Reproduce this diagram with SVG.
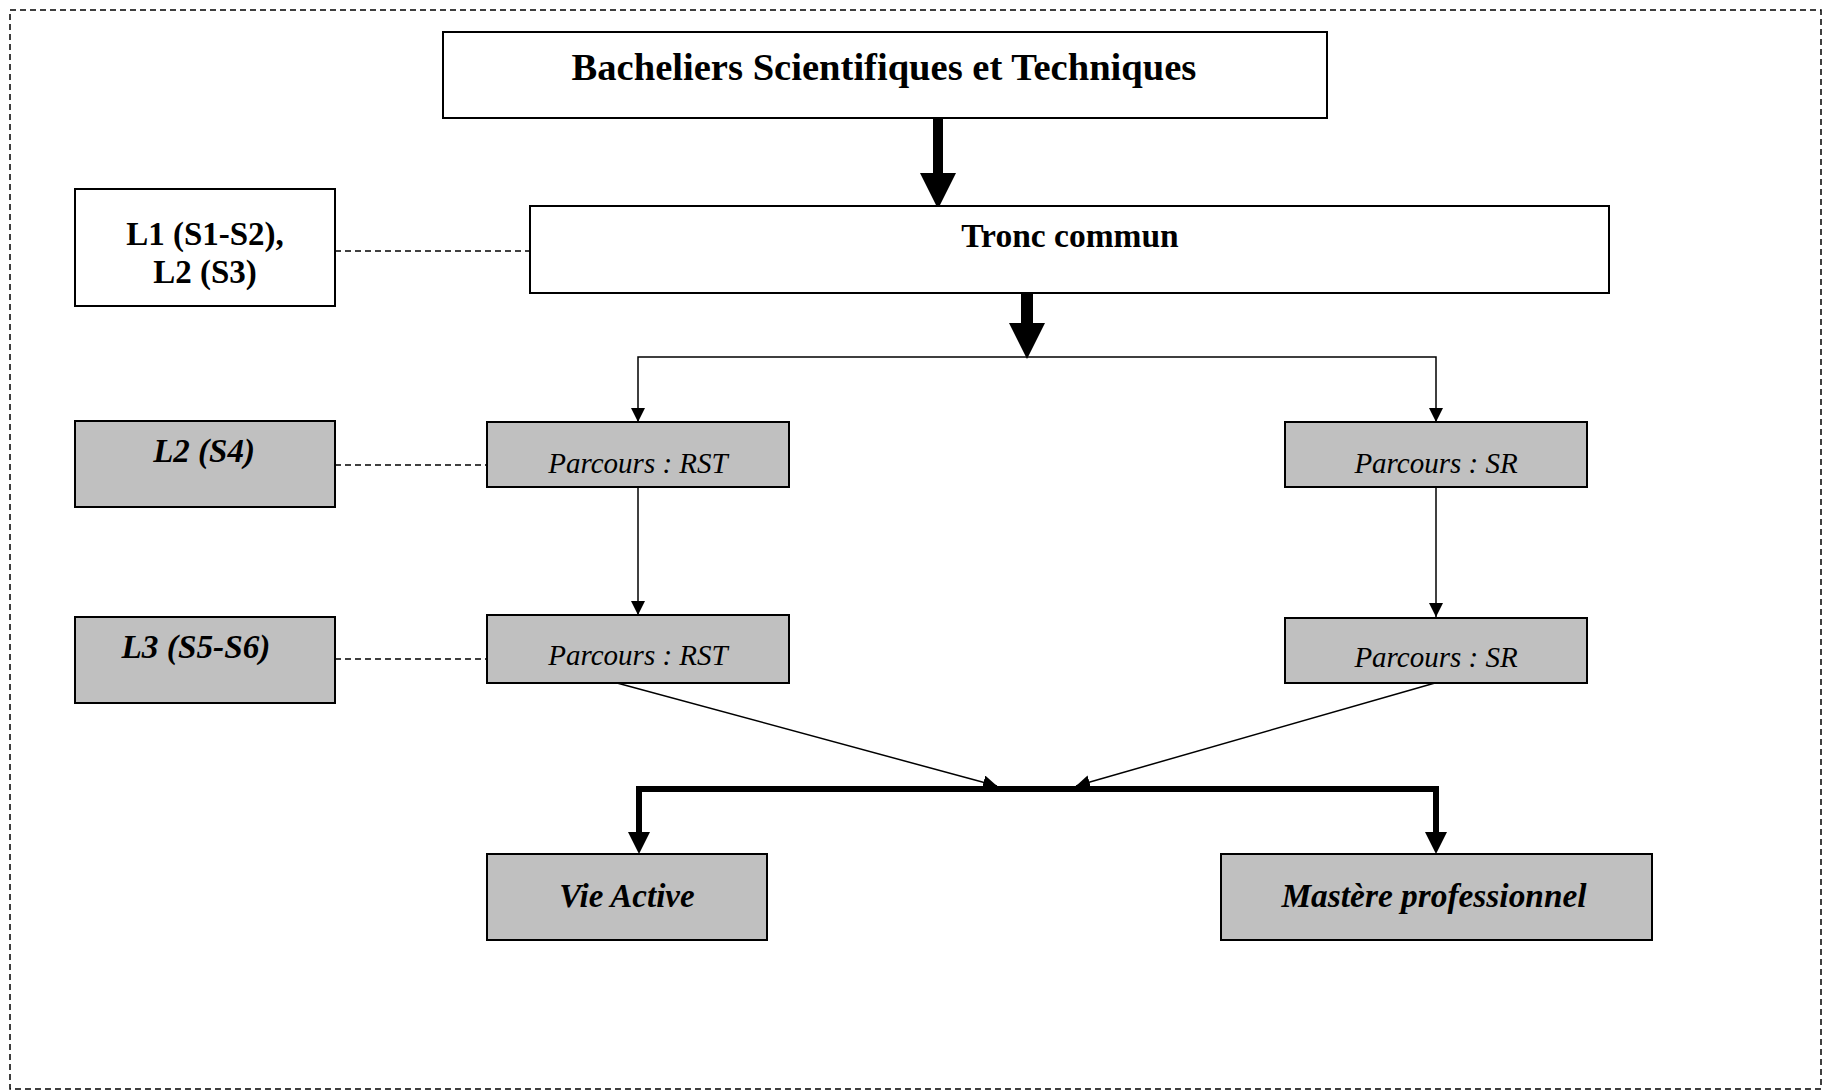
<svg xmlns="http://www.w3.org/2000/svg" width="1825" height="1092" viewBox="0 0 1825 1092">
<style>
.box{fill:#ffffff;stroke:#000;stroke-width:2}
.gray{fill:#c0c0c0;stroke:#000;stroke-width:2}
.t{font-family:"Liberation Serif","Times New Roman",serif;fill:#000;text-anchor:middle}
.b{font-weight:bold}
.i{font-style:italic}
.dash{fill:none;stroke:#000;stroke-width:1.5;stroke-dasharray:6,4}
.thin{fill:none;stroke:#000;stroke-width:1.5;marker-end:url(#ah)}
</style>
<defs>
<marker id="ah" markerUnits="userSpaceOnUse" markerWidth="14" markerHeight="14" viewBox="0 0 13 13" refX="13" refY="6.5" orient="auto"><path d="M0,0 L13,6.5 L0,13 z" fill="#000"/></marker>
<marker id="big" markerUnits="userSpaceOnUse" markerWidth="36" markerHeight="36" viewBox="0 0 34 34" refX="0" refY="17" orient="auto"><path d="M0,0 L34,17 L0,34 z" fill="#000"/></marker>
<marker id="mid" markerUnits="userSpaceOnUse" markerWidth="22" markerHeight="22" viewBox="0 0 21 21" refX="0" refY="10.5" orient="auto"><path d="M0,0 L21,10.5 L0,21 z" fill="#000"/></marker>
</defs>
<rect x="0" y="0" width="1825" height="1092" fill="#fff"/>
<rect x="10" y="10" width="1811" height="1079" fill="none" stroke="#000" stroke-width="1.5" stroke-dasharray="6,4"/>

<g id="connectors">
<path d="M938,118 V173" stroke="#000" stroke-width="10" fill="none" marker-end="url(#big)"/>
<path d="M1027,293 V323" stroke="#000" stroke-width="12" fill="none" marker-end="url(#big)"/>
<path class="thin" d="M1027,357 H638 V422"/>
<path class="thin" d="M1027,357 H1436 V422"/>
<path class="thin" d="M638,487 V615"/>
<path class="thin" d="M1436,487 V617"/>
<path class="thin" d="M617,683 L997,786"/>
<path class="thin" d="M1435,683 L1076,786"/>
<path d="M1040,789 H639 V832" stroke="#000" stroke-width="6" fill="none" marker-end="url(#mid)"/>
<path d="M1030,789 H1436 V832" stroke="#000" stroke-width="6" fill="none" marker-end="url(#mid)"/>
<path class="dash" d="M335,251 H530"/>
<path class="dash" d="M335,465 H487"/>
<path class="dash" d="M335,659 H487"/>
</g>

<g id="bacheliers">
<rect class="box" x="443" y="32" width="884" height="86"/>
<text class="t b" x="884" y="80" font-size="38.6">Bacheliers Scientifiques et Techniques</text>
</g>
<g id="tronc">
<rect class="box" x="530" y="206" width="1079" height="87"/>
<text class="t b" x="1070" y="247" font-size="33.5">Tronc commun</text>
</g>
<g id="l1">
<rect class="box" x="75" y="189" width="260" height="117"/>
<text class="t b" x="205" y="245" font-size="33">L1 (S1-S2),</text>
<text class="t b" x="205" y="283" font-size="33">L2 (S3)</text>
</g>
<g id="l2s4">
<rect class="gray" x="75" y="421" width="260" height="86"/>
<text class="t b i" x="204" y="462" font-size="33">L2 (S4)</text>
</g>
<g id="l3">
<rect class="gray" x="75" y="617" width="260" height="86"/>
<text class="t b i" x="196" y="658" font-size="33.3">L3 (S5-S6)</text>
</g>
<g id="rst1">
<rect class="gray" x="487" y="422" width="302" height="65"/>
<text class="t i" x="638" y="473" font-size="29">Parcours : RST</text>
</g>
<g id="rst2">
<rect class="gray" x="487" y="615" width="302" height="68"/>
<text class="t i" x="638" y="665" font-size="29">Parcours : RST</text>
</g>
<g id="sr1">
<rect class="gray" x="1285" y="422" width="302" height="65"/>
<text class="t i" x="1436" y="473" font-size="29">Parcours : SR</text>
</g>
<g id="sr2">
<rect class="gray" x="1285" y="618" width="302" height="65"/>
<text class="t i" x="1436" y="667" font-size="29">Parcours : SR</text>
</g>
<g id="vie">
<rect class="gray" x="487" y="854" width="280" height="86"/>
<text class="t b i" x="627" y="907" font-size="33">Vie Active</text>
</g>
<g id="mastere">
<rect class="gray" x="1221" y="854" width="431" height="86"/>
<text class="t b i" x="1434" y="907" font-size="33.4">Mastère professionnel</text>
</g>
</svg>
